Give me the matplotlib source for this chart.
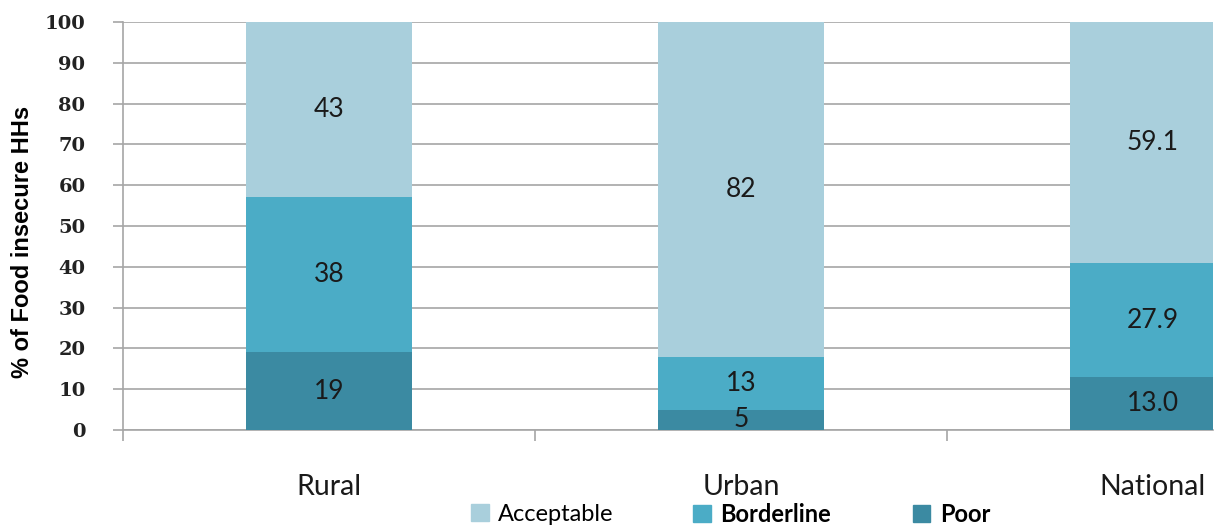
import numpy as np
import matplotlib.pyplot as plt
from matplotlib.patches import Patch

areas = ["Rural", "Urban", "National"]
poor = [19, 5, 13.0]
borderline = [38, 13, 27.9]
acceptable = [43, 82, 59.1]
poor_txt = ["19", "5", "13.0"]
border_txt = ["38", "13", "27.9"]
accept_txt = ["43", "82", "59.1"]

c_acc = "#a9cfdc"
c_bord = "#4bacc6"
c_poor = "#3b8aa2"
grid_c = "#a6a6a6"
lab_font = "Lato"

fig = plt.figure(figsize=(12.2, 5.26), dpi=100)
ax = fig.add_axes([0.1008, 0.1825, 0.8935, 0.7757])

x = np.arange(len(areas))
w = 0.403
poor = np.array(poor)
borderline = np.array(borderline)
acceptable = np.array(acceptable)

ax.bar(x, poor, w, color=c_poor, zorder=3)
ax.bar(x, borderline, w, bottom=poor, color=c_bord, zorder=3)
ax.bar(x, acceptable, w, bottom=poor + borderline, color=c_acc, zorder=3)

for i in range(len(areas)):
    ax.text(x[i], poor[i] / 2, poor_txt[i], ha="center", va="center",
            fontsize=19, family=lab_font, color="#1a1a1a", zorder=4)
    ax.text(x[i], poor[i] + borderline[i] / 2, border_txt[i], ha="center", va="center",
            fontsize=19, family=lab_font, color="#1a1a1a", zorder=4)
    ax.text(x[i], poor[i] + borderline[i] + acceptable[i] / 2, accept_txt[i],
            ha="center", va="center", fontsize=19, family=lab_font,
            color="#1a1a1a", zorder=4)

ax.set_xlim(-0.5, 2.146)
ax.set_ylim(0, 100)
ax.set_yticks(np.arange(0, 101, 10))
ax.yaxis.grid(True, color=grid_c, linewidth=1.2, zorder=0)
for s in ["top", "right"]:
    ax.spines[s].set_visible(False)
for s in ["left", "bottom"]:
    ax.spines[s].set_color(grid_c)
    ax.spines[s].set_linewidth(1.2)

ax.tick_params(axis="y", length=7, width=1.2, color=grid_c, pad=20)
for t in ax.get_yticklabels():
    t.set_family("DejaVu Serif")
    t.set_fontweight("bold")
    t.set_fontsize(14)
    t.set_color("#222222")

ax.set_xticks(x)
ax.set_xticklabels(areas, family=lab_font, fontsize=20.5, color="#1a1a1a")
ax.tick_params(axis="x", which="major", length=0, pad=32)
ax.set_xticks([-0.5, 0.5, 1.5], minor=True)
ax.tick_params(axis="x", which="minor", length=8, width=1.2, color=grid_c)

ax.set_ylabel("% of Food insecure HHs", family="Liberation Sans", fontweight="bold",
              fontsize=17)
ax.yaxis.set_label_coords(-0.082, 0.46)

# legend entries spaced like the original layout
legend_items = [("Acceptable", c_acc, "normal", 0.386),
                ("Borderline", c_bord, "bold", 0.568),
                ("Poor", c_poor, "bold", 0.748)]
for name, col, wt, xp in legend_items:
    lg = fig.legend(handles=[Patch(color=col, label=name)], loc="center left",
                    bbox_to_anchor=(xp, 0.022), frameon=False,
                    prop={"family": lab_font, "size": 17, "weight": wt},
                    handlelength=0.75, handleheight=0.75, handletextpad=0.4,
                    borderaxespad=0, borderpad=0)

fig.savefig("out.png", dpi=100)
